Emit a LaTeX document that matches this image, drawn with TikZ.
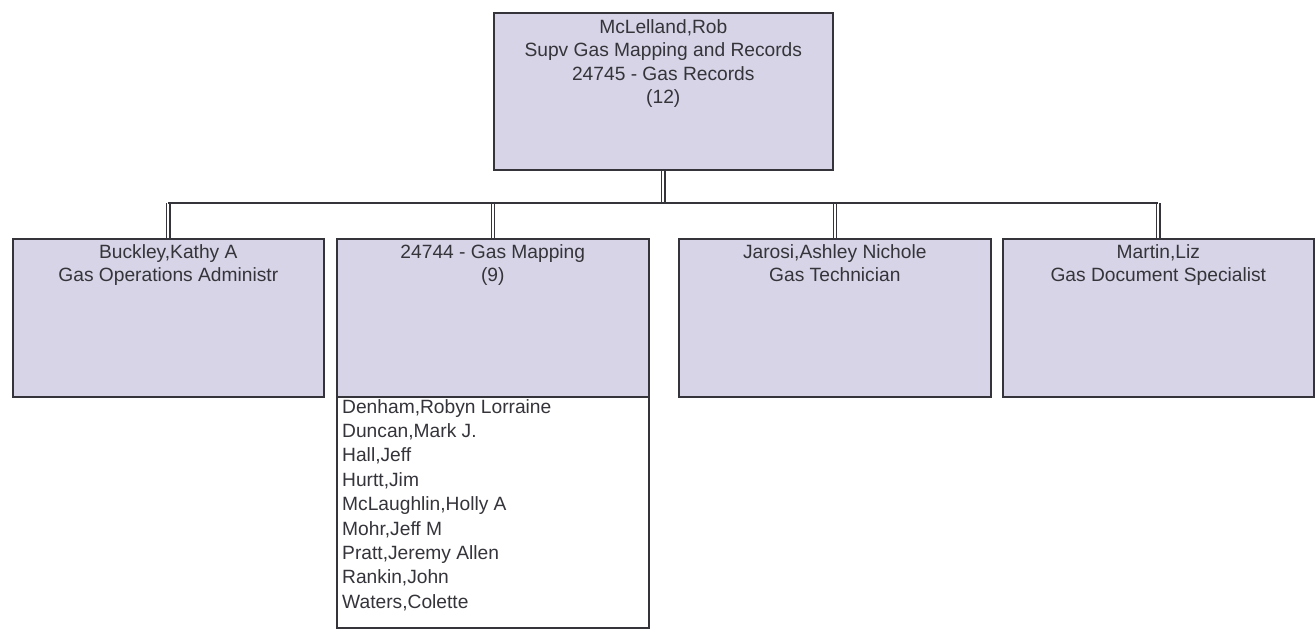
\documentclass[tikz,border=0pt]{standalone}
\usepackage{fontspec}
\setmainfont{Liberation Sans}
\usetikzlibrary{calc}
\definecolor{boxfill}{RGB}{214,212,230}
\definecolor{ink}{RGB}{52,52,58}
\begin{document}
\begin{tikzpicture}[x=1pt,y=-1pt,
  font=\fontsize{19.2}{23.5}\selectfont,
  card/.style={draw=ink, line width=1.6pt, fill=boxfill, rectangle, inner sep=0pt, anchor=north west},
  listbox/.style={draw=ink, line width=1.6pt, fill=white, rectangle, inner sep=0pt, anchor=north west},
  txt/.style={text=ink, align=center, inner sep=0pt, anchor=base},
  listtxt/.style={text=ink, align=left, inner sep=0pt, anchor=base west, font=\fontsize{19.2}{24.4}\selectfont},
  drop/.style={draw=ink, line width=1.2pt, double=white, double distance=2.2pt},
  busline/.style={draw=ink, line width=1.5pt}
]
\useasboundingbox (0,0) rectangle (1316,635);

% manager box (text nodes are placed by the baseline of their last line)
\node[card, minimum width=339pt, minimum height=157pt] (top) at (493,12) {};
\node[txt] (toptext) at ($(top.north)+(0,91.5)$)
  {McLelland,Rob\\Supv Gas Mapping and Records\\24745 - Gas Records\\(12)};

% direct reports
\node[card, minimum width=311pt, minimum height=158pt] (c1) at (12,238) {};
\node[card, minimum width=312pt, minimum height=158pt] (c2) at (336,238) {};
\node[card, minimum width=312pt, minimum height=158pt] (c3) at (678,238) {};
\node[card, minimum width=311pt, minimum height=158pt] (c4) at (1002,238) {};

\node[txt] (c1text) at ($(c1.north)+(0,43.5)$) {Buckley,Kathy A\\Gas Operations Administr};
\node[txt] (c2text) at ($(c2.north)+(0,43.5)$) {24744 - Gas Mapping\\(9)};
\node[txt] (c3text) at ($(c3.north)+(0,43.5)$) {Jarosi,Ashley Nichole\\Gas Technician};
\node[txt] (c4text) at ($(c4.north)+(0,43.5)$) {Martin,Liz\\Gas Document Specialist};

% members of the mapping group
\node[listbox, minimum width=312pt, minimum height=231pt] (list) at (336,396) {};
\node[listtxt] (members) at ($(list.north west)+(6,212.2)$)
  {Denham,Robyn Lorraine\\Duncan,Mark J.\\Hall,Jeff\\Hurtt,Jim\\McLaughlin,Holly A\\Mohr,Jeff M\\Pratt,Jeremy Allen\\Rankin,John\\Waters,Colette};

% connectors
\coordinate (bus) at (0,203);
\draw[drop] (top.south) -- (top.south |- bus);
\foreach \c in {c1,c2,c3,c4}
  \draw[drop] (\c.north) -- (\c.north |- bus);
\draw[busline] (c1.north |- bus) -- (c4.north |- bus);
\end{tikzpicture}
\end{document}
